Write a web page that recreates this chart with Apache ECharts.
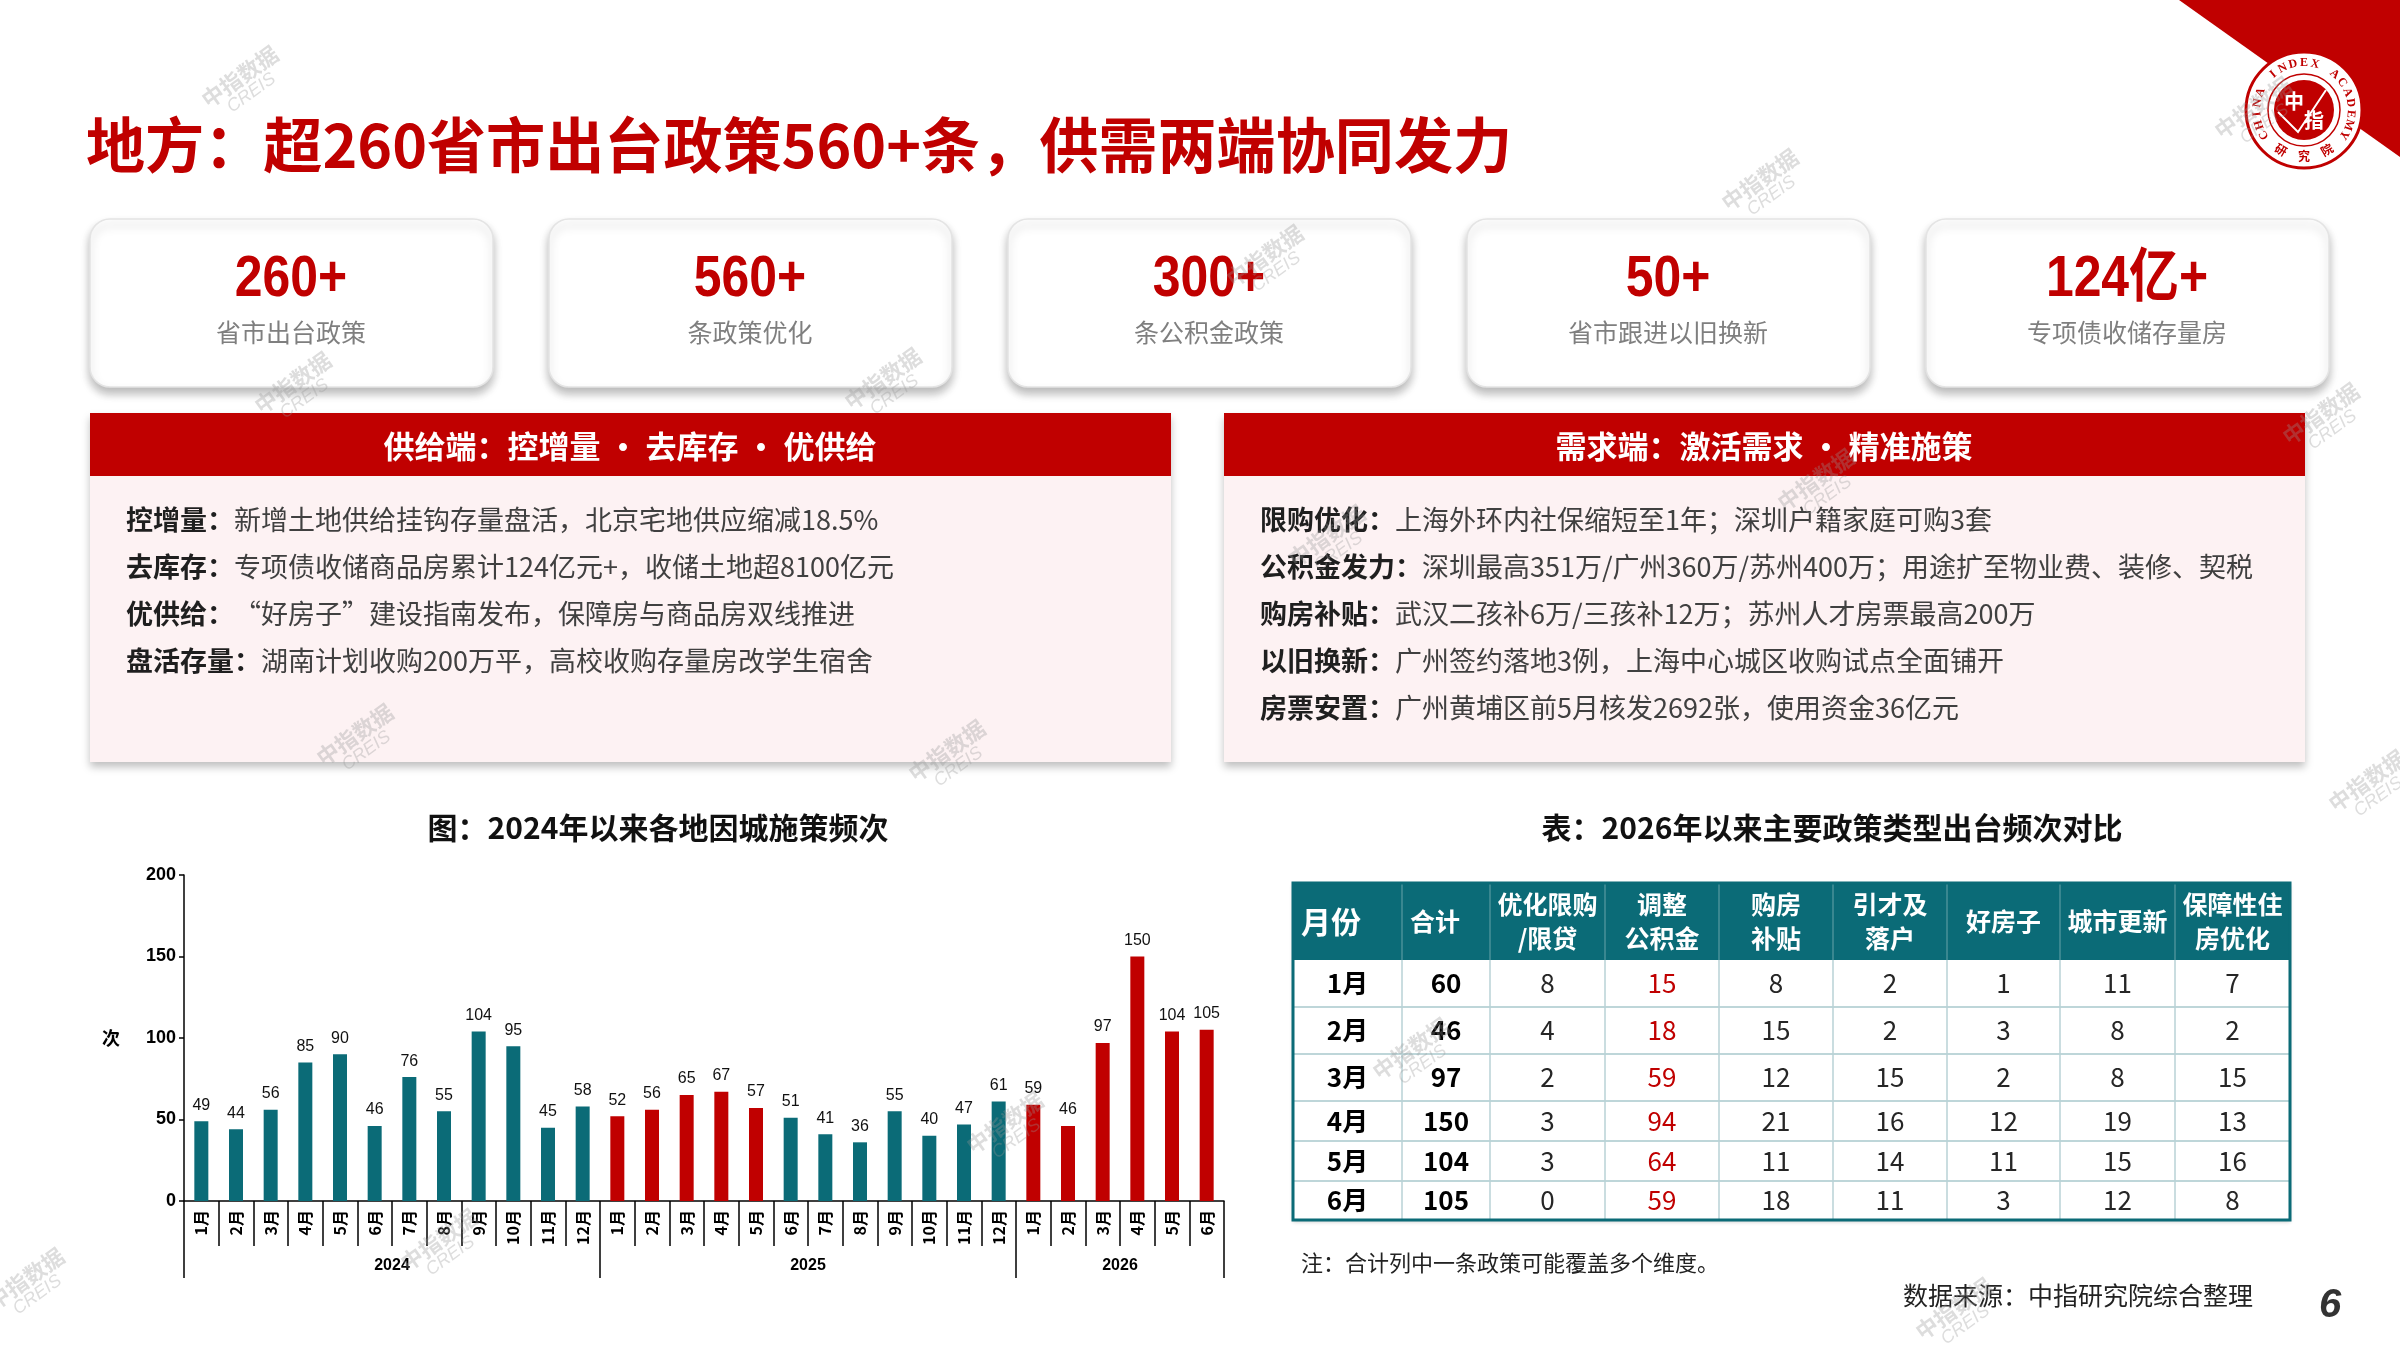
<!DOCTYPE html>
<html style="height: 100%">
<head>
<meta charset="utf-8">
<title>地方：超260省市出台政策560+条</title>
<script src="https://cdn.jsdelivr.net/npm/echarts@6.0.0/dist/echarts.min.js"></script>
</head>
<body style="height: 100%; margin: 0; background: #fff">
<div id="target" style="width: 2400px; height: 1350px"></div>
<script>
// ---- data ----
const months = ['1月','2月','3月','4月','5月','6月','7月','8月','9月','10月','11月','12月',
                '1月','2月','3月','4月','5月','6月','7月','8月','9月','10月','11月','12月',
                '1月','2月','3月','4月','5月','6月'];
const years = ['2024', '2025', '2026'];
const yearSpans = [12, 12, 6];
const counts = [49, 44, 56, 85, 90, 46, 76, 55, 104, 95, 45, 58,
                52, 56, 65, 67, 57, 51, 41, 36, 55, 40, 47, 61,
                59, 46, 97, 150, 104, 105];
// months drawn in red in the source chart
const highlight = [0,0,0,0,0,0,0,0,0,0,0,0,
                   1,1,1,1,1,0,0,0,0,0,0,0,
                   1,1,1,1,1,1];
const yTicks = [0, 50, 100, 150, 200];

const kpiValues = ['260+', '560+', '300+', '50+', '124亿+'];
const kpiLabels = ['省市出台政策', '条政策优化', '条公积金政策', '省市跟进以旧换新', '专项债收储存量房'];

const supplyTitle = '供给端：控增量 · 去库存 · 优供给';
const supplyKeys = ['控增量：', '去库存：', '优供给：', '盘活存量：'];
const supplyTexts = ['新增土地供给挂钩存量盘活，北京宅地供应缩减18.5%',
                     '专项债收储商品房累计124亿元+，收储土地超8100亿元',
                     '“好房子”建设指南发布，保障房与商品房双线推进',
                     '湖南计划收购200万平，高校收购存量房改学生宿舍'];
const demandTitle = '需求端：激活需求 · 精准施策';
const demandKeys = ['限购优化：', '公积金发力：', '购房补贴：', '以旧换新：', '房票安置：'];
const demandTexts = ['上海外环内社保缩短至1年；深圳户籍家庭可购3套',
                     '深圳最高351万/广州360万/苏州400万；用途扩至物业费、装修、契税',
                     '武汉二孩补6万/三孩补12万；苏州人才房票最高200万',
                     '广州签约落地3例，上海中心城区收购试点全面铺开',
                     '广州黄埔区前5月核发2692张，使用资金36亿元'];

const tableHead = ['月份', '合计', '优化限购\n/限贷', '调整\n公积金', '购房\n补贴', '引才及\n落户', '好房子', '城市更新', '保障性住\n房优化'];
const tableMonths = ['1月', '2月', '3月', '4月', '5月', '6月'];
const tableTotal = [60, 46, 97, 150, 104, 105];
const optLimit = [8, 4, 2, 3, 3, 0];
const fundAdjust = [15, 18, 59, 94, 64, 59];
const buySubsidy = [8, 15, 12, 21, 11, 18];
const talentHukou = [2, 2, 15, 16, 14, 11];
const goodHouse = [1, 3, 2, 12, 11, 3];
const urbanRenewal = [11, 8, 8, 19, 15, 12];
const affordable = [7, 2, 15, 13, 16, 8];

// ---- styles / layout ----
const RED = '#c00000';
const TEAL = '#0b6b77';
const CN = "'Noto Sans CJK SC', 'Noto Sans', sans-serif";
const LAT = "'Liberation Sans', Arial, sans-serif";

let chart = echarts.init(document.getElementById('target'));

function txt(x, y, text, style, extra) {
    return Object.assign({
        type: 'text', x: x, y: y, z: 20, silent: true,
        style: Object.assign({
            text: text, fill: '#333', fontFamily: CN, fontSize: 24,
            align: 'left', verticalAlign: 'middle'
        }, style)
    }, extra || {});
}

const graphic = [];

// red corner + logo
graphic.push({ type: 'polygon', z: 1, silent: true,
    shape: { points: [[2179, 0], [2400, 0], [2400, 157]] }, style: { fill: RED } });
const LX = 2304, LY = 110;
graphic.push({ type: 'circle', z: 5, shape: { cx: LX, cy: LY, r: 58 },
    style: { fill: '#fff', stroke: RED, lineWidth: 3 } });
graphic.push({ type: 'circle', z: 5, shape: { cx: LX, cy: LY, r: 36 },
    style: { fill: 'none', stroke: RED, lineWidth: 1.5 } });
graphic.push({ type: 'circle', z: 6, shape: { cx: LX, cy: LY, r: 30 },
    style: { fill: RED } });
graphic.push({ type: 'polyline', z: 7, shape: { points: [[LX - 26, LY + 2], [LX - 6, LY + 22], [LX + 22, LY - 20]] },
    style: { stroke: '#fff', lineWidth: 2, fill: 'none' } });
graphic.push(txt(LX - 10, LY - 9, '中', { fill: '#fff', fontSize: 20, fontWeight: 'bold', align: 'center' }, { z: 8 }));
graphic.push(txt(LX + 10, LY + 10, '指', { fill: '#fff', fontSize: 20, fontWeight: 'bold', align: 'center' }, { z: 8 }));
const arcText = 'CHINA INDEX ACADEMY';
for (let i = 0; i < arcText.length; i++) {
    const a = (212 - i * (244 / (arcText.length - 1))) * Math.PI / 180;
    graphic.push(txt(LX + 47 * Math.cos(a), LY - 47 * Math.sin(a), arcText[i],
        { fill: RED, fontSize: 12, fontWeight: 'bold', fontFamily: "'Liberation Serif', serif", align: 'center' },
        { z: 8, rotation: a - Math.PI / 2 }));
}
['研', '究', '院'].forEach((ch, i) => {
    const a = (240 + i * 30) * Math.PI / 180;
    graphic.push(txt(LX + 46 * Math.cos(a), LY - 46 * Math.sin(a), ch,
        { fill: RED, fontSize: 12, fontWeight: 'bold', align: 'center' },
        { z: 8, rotation: a + Math.PI / 2 }));
});

// title
graphic.push(txt(86, 145, '地方：超260省市出台政策560+条，供需两端协同发力',
    { fill: RED, fontSize: 60, fontWeight: 'bold' }, { scaleX: 0.985 }));

// KPI cards
kpiValues.forEach((v, i) => {
    const x = 90 + i * 459;
    graphic.push({ type: 'rect', z: 3, silent: true,
        shape: { x: x, y: 219, width: 403, height: 168, r: 20 },
        style: { fill: '#fff', stroke: '#e4e4e4', lineWidth: 1.5,
                 shadowBlur: 10, shadowOffsetY: 6, shadowColor: 'rgba(0,0,0,0.28)' } });
    graphic.push(txt(x + 201, 280, v, { fill: RED, fontSize: 58, fontWeight: 'bold', fontFamily: LAT + ", 'Noto Sans CJK SC'", align: 'center' },
        { scaleX: 0.86 }));
    graphic.push(txt(x + 201, 332, kpiLabels[i], { fill: '#7f7f7f', fontSize: 25, align: 'center' }));
});

// supply / demand panels
function panel(x, title, keys, texts) {
    graphic.push({ type: 'rect', z: 2, silent: true,
        shape: { x: x, y: 413, width: 1081, height: 349 },
        style: { fill: '#fdf2f3', shadowBlur: 8, shadowOffsetY: 5, shadowColor: 'rgba(0,0,0,0.25)' } });
    graphic.push({ type: 'rect', z: 3, silent: true,
        shape: { x: x, y: 413, width: 1081, height: 63 },
        style: { fill: RED } });
    graphic.push(txt(x + 540, 446, title, { fill: '#fff', fontSize: 31, fontWeight: 'bold', align: 'center' }));
    keys.forEach((k, i) => {
        graphic.push(txt(x + 36, 520 + i * 47, '{b|' + k + '}{n|' + texts[i] + '}', {
            rich: {
                b: { fontSize: 27, fontWeight: 'bold', fill: '#1f1f1f', fontFamily: CN },
                n: { fontSize: 27, fill: '#404040', fontFamily: CN }
            }
        }));
    });
}
panel(90, supplyTitle, supplyKeys, supplyTexts);
panel(1224, demandTitle, demandKeys, demandTexts);

// captions
graphic.push(txt(658, 828, '图：2024年以来各地因城施策频次', { fill: '#111', fontSize: 30, fontWeight: 'bold', align: 'center' }));
graphic.push(txt(1832, 828, '表：2026年以来主要政策类型出台频次对比', { fill: '#111', fontSize: 30, fontWeight: 'bold', align: 'center' }));

// table
const colX = [1293, 1402, 1490, 1605, 1719, 1833, 1947, 2060, 2175, 2290];
const rowY = [883, 960, 1007, 1054, 1101, 1141, 1181, 1220];
const tableCols = [tableMonths, tableTotal, optLimit, fundAdjust, buySubsidy, talentHukou, goodHouse, urbanRenewal, affordable];
graphic.push({ type: 'rect', z: 3, silent: true,
    shape: { x: colX[0], y: rowY[0], width: colX[9] - colX[0], height: rowY[7] - rowY[0] },
    style: { fill: '#fff', shadowBlur: 4, shadowOffsetY: 2, shadowColor: 'rgba(0,0,0,0.2)' } });
graphic.push({ type: 'rect', z: 4, silent: true,
    shape: { x: colX[0], y: rowY[0], width: colX[9] - colX[0], height: rowY[1] - rowY[0] },
    style: { fill: TEAL } });
for (let r = 2; r < 7; r++) {
    graphic.push({ type: 'line', z: 5, silent: true,
        shape: { x1: colX[0], y1: rowY[r], x2: colX[9], y2: rowY[r] },
        style: { stroke: '#a9c9cd', lineWidth: 1.5 } });
}
for (let c = 1; c < 9; c++) {
    graphic.push({ type: 'line', z: 5, silent: true,
        shape: { x1: colX[c], y1: rowY[0], x2: colX[c], y2: rowY[1] },
        style: { stroke: '#4a9099', lineWidth: 1.5 } });
    graphic.push({ type: 'line', z: 5, silent: true,
        shape: { x1: colX[c], y1: rowY[1], x2: colX[c], y2: rowY[7] },
        style: { stroke: '#b9d2d6', lineWidth: 1.5 } });
}
graphic.push({ type: 'rect', z: 6, silent: true,
    shape: { x: colX[0], y: rowY[0], width: colX[9] - colX[0], height: rowY[7] - rowY[0] },
    style: { fill: 'none', stroke: TEAL, lineWidth: 3 } });
tableHead.forEach((h, c) => {
    const left = c < 2;
    graphic.push(txt(left ? colX[c] + 8 : (colX[c] + colX[c + 1]) / 2, (rowY[0] + rowY[1]) / 2, h, {
        fill: '#fff', fontWeight: 'bold', fontSize: c === 0 ? 30 : 25, lineHeight: 34,
        align: left ? 'left' : 'center'
    }));
});
tableMonths.forEach((m, r) => {
    const yc = (rowY[r + 1] + rowY[r + 2]) / 2;
    tableCols.forEach((col, c) => {
        graphic.push(txt((colX[c] + colX[c + 1]) / 2, yc, String(col[r]), {
            fill: c === 3 ? RED : (c < 2 ? '#000' : '#262626'),
            fontWeight: c < 2 ? 'bold' : 'normal', fontSize: 26, align: 'center'
        }));
    });
});

// notes
graphic.push(txt(1301, 1263, '注：合计列中一条政策可能覆盖多个维度。', { fill: '#222', fontSize: 22 }));
graphic.push(txt(1903, 1295, '数据来源：中指研究院综合整理', { fill: '#222', fontSize: 25 }));
graphic.push(txt(2330, 1306, '6', { fill: '#333', fontSize: 40, fontWeight: 'bold', fontStyle: 'italic', fontFamily: LAT, align: 'center' }));

// watermarks
[[245, 84], [1765, 187], [1270, 263], [298, 390], [888, 386], [1821, 487], [1332, 543],
 [2326, 421], [360, 742], [952, 758], [2372, 788], [31, 1286], [444, 1247], [1010, 1130],
 [1416, 1056], [1959, 1316], [2258, 115]].forEach(p => {
    graphic.push(txt(p[0], p[1], '{a|中指数据}\n{b|CREIS}', {
        align: 'center',
        rich: {
            a: { fontSize: 22, fontWeight: 'bold', fill: 'rgba(150,150,150,0.32)', fontFamily: CN, align: 'center' },
            b: { fontSize: 18, fontStyle: 'italic', fill: 'rgba(150,150,150,0.32)', fontFamily: LAT, align: 'center' }
        }
    }, { z: 30, rotation: 0.62 }));
});

// year boundaries on the month axis
const yearEdges = [0];
yearSpans.forEach(s => yearEdges.push(yearEdges[yearEdges.length - 1] + s));
const yearMids = yearSpans.map((s, i) => yearEdges[i] + s / 2);

let option = {
    animation: false,
    textStyle: { fontFamily: CN },
    grid: { left: 184, right: 1176, top: 875, bottom: 149 },
    xAxis: [
        {
            type: 'category',
            data: months,
            position: 'bottom',
            axisLine: { lineStyle: { color: '#000', width: 1.5 } },
            axisTick: { show: true, interval: 0, length: 45, lineStyle: { color: '#000', width: 1.5 } },
            axisLabel: { interval: 0, rotate: 90, margin: 9, fontSize: 16, fontWeight: 'bold', color: '#000', fontFamily: CN },
            splitLine: { show: false },
        },
        {
            type: 'value',
            position: 'bottom',
            min: 0,
            max: yearEdges[yearEdges.length - 1],
            axisLine: { show: false },
            splitLine: { show: false },
            axisTick: { show: true, length: 77, customValues: yearEdges, lineStyle: { color: '#000', width: 1.5 } },
            axisLabel: {
                show: true, margin: 57, fontSize: 16, fontWeight: 'bold', color: '#000', fontFamily: LAT,
                customValues: yearMids,
                formatter: v => years[yearMids.indexOf(v)] || '',
            },
        },
    ],
    yAxis: {
        type: 'value',
        min: 0,
        max: 200,
        interval: 50,
        name: '次',
        nameLocation: 'middle',
        nameRotate: 0,
        nameGap: 64,
        nameTextStyle: { fontSize: 18, fontWeight: 'bold', color: '#000', fontFamily: CN },
        axisLine: { show: true, lineStyle: { color: '#000', width: 1.5 } },
        axisTick: { show: true, length: 5, lineStyle: { color: '#000', width: 1.5 } },
        axisLabel: { fontSize: 18, fontWeight: 'bold', color: '#000', fontFamily: LAT, margin: 8,
                     customValues: yTicks },
        splitLine: { show: false },
    },
    series: [
        {
            name: '频次',
            type: 'bar',
            xAxisIndex: 0,
            yAxisIndex: 0,
            barWidth: 14,
            data: counts.map((v, i) => ({ value: v, itemStyle: { color: highlight[i] ? RED : TEAL } })),
            label: { show: true, position: 'top', distance: 8, fontSize: 16, color: '#111', fontFamily: LAT },
        },
    ],
    graphic: graphic,
};

chart.setOption(option);
</script>
</body>
</html>
